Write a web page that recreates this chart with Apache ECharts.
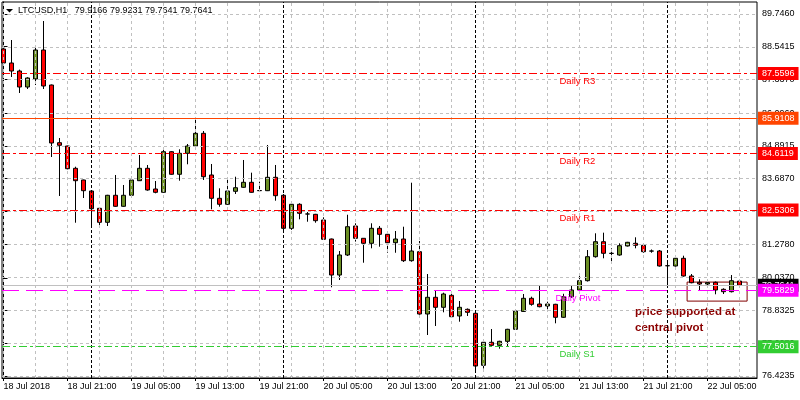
<!DOCTYPE html>
<html>
<head>
<meta charset="utf-8">
<title>LTCUSD H1</title>
<script src="https://cdn.jsdelivr.net/npm/echarts@6/dist/echarts.min.js"></script>
<style>
  html, body { margin: 0; padding: 0; background: #fff; }
  #chart { width: 800px; height: 400px; }
</style>
</head>
<body>
<div id="chart"></div>
<script>
// H1 bars from 18 Jul 13:00 to 22 Jul 09:00, each one [open, high, low, close]
const bars = [
  [88.458, 88.55, 87.90, 87.943], [87.943, 88.789, 87.427, 87.648], [87.648, 87.70, 86.839, 87.059],
  [87.059, 87.42, 86.986, 87.391], [87.354, 88.568, 87.133, 88.421], [88.421, 89.488, 86.986, 87.096],
  [87.133, 87.15, 84.483, 84.998], [85.010, 85.182, 83.048, 84.914], [84.888, 84.90, 84.03, 84.053],
  [84.067, 84.126, 82.065, 83.611], [83.637, 83.65, 82.974, 83.243], [83.232, 83.25, 81.918, 82.580],
  [82.595, 82.60, 81.981, 82.080], [82.080, 83.09, 81.944, 83.074], [83.074, 83.821, 82.65, 82.669],
  [82.669, 83.453, 82.65, 83.074], [83.074, 83.758, 83.06, 83.637], [83.611, 84.557, 83.60, 84.067],
  [84.067, 84.189, 83.243, 83.269], [83.306, 83.600, 83.147, 83.184], [83.184, 84.803, 83.17, 84.678],
  [84.678, 84.70, 83.83, 83.847], [83.847, 84.766, 83.611, 84.619], [84.619, 84.962, 84.215, 84.888],
  [84.888, 85.919, 84.766, 85.355], [85.355, 85.440, 83.637, 83.758], [83.821, 84.226, 82.558, 82.963],
  [82.963, 83.331, 82.654, 82.743], [82.743, 83.699, 82.72, 83.232], [83.221, 83.758, 83.122, 83.353],
  [83.368, 84.373, 83.35, 83.552], [83.552, 83.906, 83.17, 83.184], [83.25, 83.574, 83.22, 83.243],
  [83.243, 84.925, 83.23, 83.736], [83.736, 84.189, 82.875, 83.059], [83.074, 83.122, 81.697, 81.859],
  [81.859, 82.76, 81.80, 82.743], [82.743, 82.78, 82.190, 82.411], [82.386, 82.459, 82.102, 82.386],
  [82.374, 82.39, 82.065, 82.139], [82.165, 82.264, 81.44, 81.454], [81.465, 81.48, 79.688, 80.140],
  [80.140, 81.024, 79.957, 80.877], [80.877, 82.359, 80.84, 81.918], [81.944, 82.043, 81.37, 81.491],
  [81.491, 81.50, 80.593, 81.307], [81.307, 82.043, 81.123, 81.859], [81.859, 81.944, 81.182, 81.638],
  [81.638, 81.734, 80.961, 81.329], [81.33, 81.760, 80.96, 81.465], [81.465, 81.918, 80.62, 80.667],
  [80.667, 83.537, 80.63, 81.024], [80.998, 81.392, 78.68, 78.705], [78.705, 80.177, 77.932, 79.320],
  [79.320, 79.563, 78.264, 78.952], [78.952, 79.49, 78.768, 79.441], [79.393, 79.47, 78.58, 78.606],
  [78.632, 79.184, 78.422, 78.952], [78.878, 78.91, 78.632, 78.768], [78.731, 78.79, 76.644, 76.791],
  [76.817, 77.774, 76.70, 77.664], [77.664, 78.153, 77.53, 77.553], [77.553, 77.72, 77.428, 77.700],
  [77.700, 78.16, 77.52, 78.142], [78.142, 78.85, 78.12, 78.816], [78.80, 79.441, 78.78, 79.283],
  [79.283, 79.343, 79.011, 79.062], [79.073, 79.773, 78.95, 78.974], [79.000, 79.158, 78.827, 79.073],
  [79.062, 79.08, 78.363, 78.584], [78.584, 79.45, 78.56, 79.342], [79.342, 79.773, 79.30, 79.588],
  [79.588, 80.140, 79.55, 79.931], [79.931, 81.06, 79.90, 80.814], [80.814, 81.675, 80.78, 81.366],
  [81.366, 81.698, 80.755, 80.939], [80.939, 81.123, 80.593, 80.935], [80.877, 81.307, 80.85, 81.219],
  [81.208, 81.36, 81.19, 81.344], [81.307, 81.528, 81.123, 81.234], [81.234, 81.25, 80.96, 80.998],
  [81.024, 81.08, 80.96, 81.020], [81.024, 81.061, 80.45, 80.472], [80.483, 80.693, 79.710, 80.480],
  [80.472, 80.877, 80.45, 80.755], [80.755, 80.851, 80.08, 80.104], [80.104, 80.177, 79.835, 79.857],
  [79.871, 79.983, 79.588, 79.809], [79.809, 79.983, 79.736, 79.860], [79.871, 79.90, 79.431, 79.588],
  [79.614, 79.651, 79.441, 79.526], [79.526, 80.140, 79.50, 79.931], [79.9166, 79.9231, 79.7641, 79.7641]
];

const xTickBars = [0, 8, 16, 24, 32, 40, 48, 56, 64, 72, 80, 88];
const xTickLabels = ['18 Jul 2018', '18 Jul 21:00', '19 Jul 05:00', '19 Jul 13:00', '19 Jul 21:00', '20 Jul 05:00',
  '20 Jul 13:00', '20 Jul 21:00', '21 Jul 05:00', '21 Jul 13:00', '21 Jul 21:00', '22 Jul 05:00'];
const gridBars = [0, 4, 8, 12, 16, 20, 24, 28, 32, 36, 40, 44, 48, 52, 56, 60, 64, 68, 72, 76, 80, 84, 88, 92];
const dayStartBars = [11, 35, 59, 83];
const priceTicks = [89.7460, 88.5415, 87.3370, 86.0960, 84.8915, 83.6870, 82.4825, 81.2780, 80.0370, 78.8325, 77.6280, 76.4235];

const levelNames = ['Daily R3', 'Daily R2', 'Daily R1', 'Daily Pivot', 'Daily S1'];
const levelValues = [87.5596, 84.6119, 82.5306, 79.5829, 77.5016];
const orangeLevel = 85.9108;

const FONT = '"Liberation Sans", Arial, sans-serif';
const levelStyle = {
  'Daily R3': { color: '#ff0000', dash: [8, 3, 3, 3] },
  'Daily R2': { color: '#ff0000', dash: [8, 3, 3, 3] },
  'Daily R1': { color: '#ff0000', dash: [8, 3, 3, 3] },
  'Daily Pivot': { color: '#ff00ff', dash: [17, 7] },
  'Daily S1': { color: '#32cd32', dash: [8, 3, 3, 3] }
};

const last = bars[bars.length - 1];
const titleText = 'LTCUSD,H1   ' + last.map(v => v.toFixed(4)).join(' ');

function tag(value, color, lineType) {
  return {
    yAxis: value,
    lineStyle: { color: color === '#000' ? '#c0c0c0' : color, type: lineType, width: 1 },
    label: { backgroundColor: color }
  };
}

const chart = echarts.init(document.getElementById('chart'));
const option = {
  animation: false,
  backgroundColor: '#fff',
  grid: { left: 2, right: 43, top: 2, bottom: 22, show: true, borderColor: '#000', borderWidth: 1, backgroundColor: '#fff' },
  xAxis: {
    type: 'value',
    min: -0.1875,
    max: 94.1875,
    axisLine: { show: true, lineStyle: { color: '#000', width: 1 } },
    axisTick: { show: true, customValues: xTickBars, length: 3, lineStyle: { color: '#000' } },
    axisLabel: {
      show: true,
      customValues: xTickBars,
      formatter: v => xTickLabels[xTickBars.indexOf(v)],
      align: 'left',
      margin: 4,
      color: '#000',
      fontSize: 9,
      fontFamily: FONT
    },
    splitLine: { show: false }
  },
  yAxis: {
    type: 'value',
    position: 'right',
    min: 76.35,
    max: 90.1876,
    axisLine: { show: true, lineStyle: { color: '#000', width: 1 } },
    axisTick: { show: true, customValues: priceTicks, length: 4, lineStyle: { color: '#000' } },
    axisLabel: {
      show: true,
      customValues: priceTicks,
      formatter: v => v.toFixed(4),
      margin: 5,
      color: '#000',
      fontSize: 9,
      fontFamily: FONT
    },
    splitLine: { show: false }
  },
  graphic: [
    { type: 'polygon', shape: { points: [[6, 9], [13, 9], [9.5, 12.5]] }, style: { fill: '#000' } },
    { type: 'text', left: 18, top: 6, style: { text: titleText, font: '9px ' + FONT, fill: '#000' } },
    {
      type: 'text', left: 635, top: 304,
      style: { text: 'price supported at\ncentral pivot', font: 'bold 11.5px ' + FONT, fill: '#8b0000', lineHeight: 16 }
    }
  ],
  series: [
    {
      // grid and day separators
      type: 'line',
      data: [],
      z: 1,
      silent: true,
      markLine: {
        silent: true,
        symbol: 'none',
        animation: false,
        label: { show: false },
        data: [
          ...priceTicks.map(v => ({ yAxis: v, lineStyle: { color: '#c0c0c0', type: [3, 3], width: 1 } })),
          ...gridBars.map(b => ({ xAxis: b, lineStyle: { color: '#c0c0c0', type: [3, 3], width: 1 } })),
          ...dayStartBars.map(b => ({ xAxis: b, lineStyle: { color: '#000', type: [3, 2], width: 1 } }))
        ]
      }
    },
    {
      type: 'candlestick',
      z: 2,
      barWidth: 4,
      clip: true,
      silent: true,
      dimensions: ['bar', 'open', 'close', 'lowest', 'highest'],
      encode: { x: 'bar', y: ['open', 'close', 'lowest', 'highest'] },
      data: bars.map((b, i) => [i, b[0], b[3], b[2], b[1]]),
      itemStyle: { color: '#6b8e23', color0: '#ff0000', borderColor: '#000', borderColor0: '#000', borderWidth: 1 }
    },
    {
      // pivot levels, price tags and annotation box
      type: 'line',
      data: [],
      z: 3,
      silent: true,
      markLine: {
        silent: true,
        symbol: 'none',
        animation: false,
        precision: 4,
        label: {
          show: true,
          position: 'end',
          distance: 1,
          formatter: p => Number(p.value).toFixed(4),
          color: '#fff',
          fontSize: 9,
          fontFamily: FONT,
          lineHeight: 10,
          padding: [2, 4, 1, 4]
        },
        data: [
          tag(last[3], '#000', 'solid'),
          tag(orangeLevel, '#ff4500', 'solid'),
          ...levelNames.map((n, k) => tag(levelValues[k], levelStyle[n].color, levelStyle[n].dash))
        ]
      },
      markPoint: {
        silent: true,
        symbol: 'circle',
        symbolSize: 0,
        animation: false,
        label: { show: true, position: [0, 3], fontSize: 9.5, fontFamily: FONT, formatter: p => p.name },
        data: levelNames.map((n, k) => ({
          name: n,
          coord: [n === 'Daily Pivot' ? 69 : 69.5, levelValues[k]],
          label: { color: levelStyle[n].color }
        }))
      },
      markArea: {
        silent: true,
        animation: false,
        itemStyle: { color: 'rgba(0,0,0,0)', borderColor: '#800000', borderWidth: 1 },
        data: [[{ coord: [85.45, 79.88] }, { coord: [92.95, 79.18] }]]
      }
    }
  ]
};
chart.setOption(option);
</script>
</body>
</html>
